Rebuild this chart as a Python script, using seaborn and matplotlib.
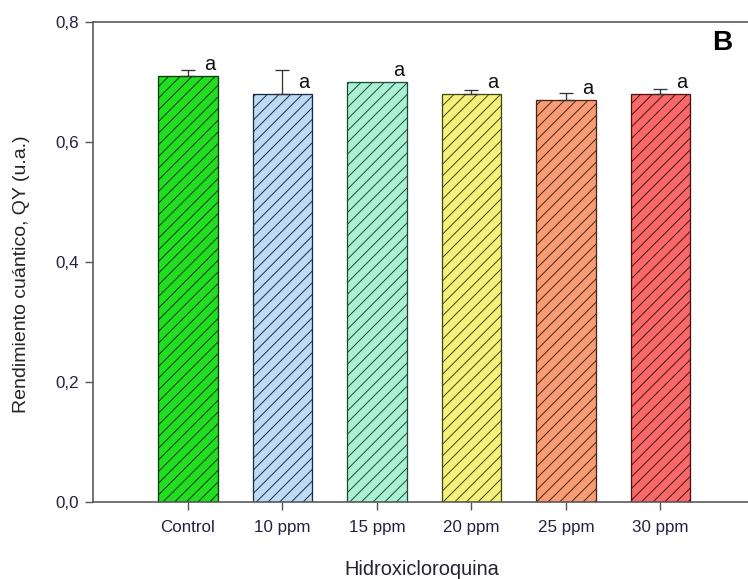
import numpy as np
import pandas as pd
import matplotlib
matplotlib.use("Agg")
import matplotlib.pyplot as plt
import seaborn as sns

# Data
categories = ["Control", "10 ppm", "15 ppm", "20 ppm", "25 ppm", "30 ppm"]
qy_mean = [0.71, 0.68, 0.70, 0.68, 0.67, 0.68]
qy_err = [0.010, 0.040, 0.000, 0.007, 0.011, 0.008]
letters = ["a", "a", "a", "a", "a", "a"]
y_ticks = [0.0, 0.2, 0.4, 0.6, 0.8]
y_tick_labels = ["0,0", "0,2", "0,4", "0,6", "0,8"]

fill_colors = ["#22DD22", "#BDDCF4", "#AAF0D2", "#F4F27C", "#F89C76", "#F86A6A"]
edge_colors = ["#0B3A0B", "#1A2A4A", "#1D4A3A", "#45450F", "#4A2412", "#4A1212"]

DPI = 70
W, H = 748, 579
def px(v):
    return v * 72.0 / DPI

sns.set_theme(style="white")
plt.rcParams["font.family"] = ["Liberation Sans", "DejaVu Sans"]
plt.rcParams["hatch.linewidth"] = 1.0

fig = plt.figure(figsize=(W / DPI, H / DPI), dpi=DPI)
fig.patch.set_facecolor("white")

# axes: left spine at x=93, bottom at y=502, top at y=22; one category step = 94.5 px
ax_left, ax_bottom, ax_top = 93, 502, 22
step = 94.5
ax_w = 8 * step
ax = fig.add_axes([ax_left / W, (H - ax_bottom) / H, ax_w / W, (ax_bottom - ax_top) / H])

df = pd.DataFrame({"grupo": categories, "qy": qy_mean})
sns.barplot(data=df, x="grupo", y="qy", hue="grupo", palette=fill_colors,
            width=0.625, legend=False, errorbar=None, ax=ax, saturation=1)

for patch, fc, ec in zip(ax.patches, fill_colors, edge_colors):
    patch.set_facecolor(fc)
    patch.set_edgecolor(ec)
    patch.set_linewidth(px(1.3))
    patch.set_hatch("//")

# upward-only error bars
xs = np.arange(len(categories))
for x, m, e in zip(xs, qy_mean, qy_err):
    if e > 0:
        ax.errorbar(x, m, yerr=[[0], [e]], fmt="none", ecolor="#333333",
                    elinewidth=px(1.3), capsize=px(7), capthick=px(1.3), zorder=3)

# significance letters just above each bar
for x, m, t in zip(xs, qy_mean, letters):
    ax.text(x + 0.17, m + 0.01, t, ha="left", va="baseline",
            fontsize=px(20), color="#111111")

ax.set_xlim(-1.005, 6.995)
ax.set_ylim(0, 0.8)
ax.set_yticks(y_ticks)
ax.set_yticklabels(y_tick_labels)

spine_c = "#555555"
for s in ["left", "bottom", "top", "right"]:
    ax.spines[s].set_color(spine_c)
    ax.spines[s].set_linewidth(px(1.6))

tick_c = "#222240"
ax.tick_params(axis="both", which="major", direction="out", length=px(8),
               width=px(1.4), color=spine_c, labelcolor=tick_c,
               bottom=True, left=True, top=False, right=False)
ax.tick_params(axis="y", labelsize=px(17), pad=px(6))
ax.tick_params(axis="x", labelsize=px(17), pad=px(10))

ax.set_xlabel("Hidroxicloroquina", fontsize=px(20), color="#222230")
ax.xaxis.set_label_coords((422 - ax_left) / ax_w, -(575 - ax_bottom) / (ax_bottom - ax_top))
ax.xaxis.label.set_va("baseline")

ax.set_ylabel("Rendimiento cuántico, QY (u.a.)", fontsize=px(19.5), color="#2a2226")
ax.yaxis.set_label_coords(-(ax_left - 22) / ax_w, (ax_bottom - 274) / (ax_bottom - ax_top))
ax.yaxis.label.set_va("center")

fig.text(712 / W, 1 - 50 / H, "B", fontsize=px(28), fontweight="bold",
         ha="left", va="baseline", color="black")

fig.savefig("out.png", dpi=DPI, facecolor="white")
